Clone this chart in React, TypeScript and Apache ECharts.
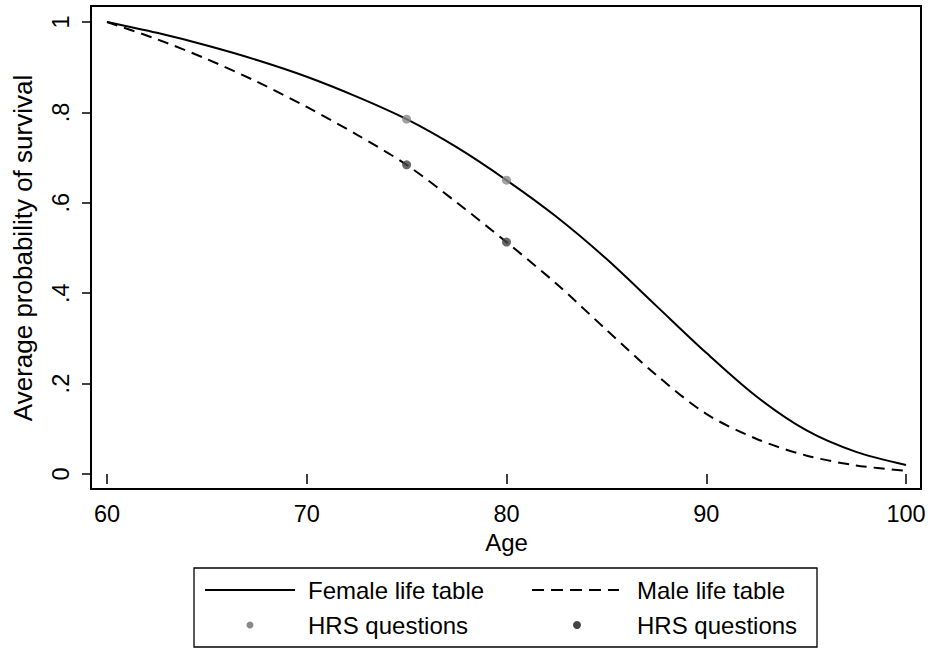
import React, { useEffect, useRef } from "react";
import * as echarts from "echarts";

const ages = [60, 62.5, 65, 67.5, 70, 72.5, 75, 77.5, 80, 82.5, 85, 87.5, 90, 92.5, 95, 97.5, 100];
const femaleSurvival = [1.0, 0.976, 0.948, 0.916, 0.879, 0.835, 0.785, 0.723, 0.65, 0.569, 0.476, 0.372, 0.268, 0.172, 0.097, 0.049, 0.02];
const maleSurvival = [1.0, 0.962, 0.918, 0.868, 0.812, 0.751, 0.684, 0.601, 0.513, 0.421, 0.319, 0.219, 0.133, 0.078, 0.041, 0.019, 0.007];
const hrsAges = [75, 80];
const femaleHRS = [0.785, 0.65];
const maleHRS = [0.684, 0.513];
const legendLabels = ["Female life table", "Male life table", "HRS questions", "HRS questions"];
const xTitle = "Age";
const yTitle = "Average probability of survival";

const FONT = "'Liberation Sans', Arial, Helvetica, sans-serif";
const FEMALE_DOT = "#8a8a8a";
const MALE_DOT = "#444444";

export default function App() {
  const ref = useRef<HTMLDivElement>(null);
  useEffect(() => {
    if (!ref.current) return;
    const chart = echarts.init(ref.current, null, { renderer: "svg" });
    const pair = (xs: number[], ys: number[]) => xs.map((x, i) => [x, ys[i]]);
    chart.setOption({
      animation: false,
      backgroundColor: "#ffffff",
      textStyle: { fontFamily: FONT },
      grid: { left: 107, right: 24, top: 22, bottom: 176, outerBoundsMode: "none" },
      xAxis: {
        type: "value",
        min: 60,
        max: 100,
        interval: 10,
        offset: 15,
        name: xTitle,
        nameLocation: "middle",
        nameGap: 40,
        nameTextStyle: { fontSize: 24, color: "#000", fontFamily: FONT },
        axisLine: { show: false },
        axisTick: { show: true, length: 10, lineStyle: { color: "#000", width: 1.5 } },
        axisLabel: { fontSize: 23.5, color: "#000", margin: 13, fontFamily: FONT },
        splitLine: { show: false },
      },
      yAxis: {
        type: "value",
        min: 0,
        max: 1,
        interval: 0.2,
        offset: 16,
        name: yTitle,
        nameLocation: "middle",
        nameGap: 55,
        nameTextStyle: { fontSize: 26, color: "#000", fontFamily: FONT },
        axisLine: { show: false },
        axisTick: { show: true, length: 9, lineStyle: { color: "#000", width: 1.5 } },
        axisLabel: {
          fontSize: 23.5,
          color: "#000",
          rotate: 90,
          margin: 18,
          fontFamily: FONT,
          formatter: (v: number) => (v === 0 ? "0" : v === 1 ? "1" : "." + Math.round(v * 10)),
        },
        splitLine: { show: false },
      },
      series: [
        {
          name: legendLabels[0],
          type: "line",
          data: pair(ages, femaleSurvival),
          smooth: 0.3,
          showSymbol: false,
          lineStyle: { color: "#000", width: 2 },
          z: 2,
        },
        {
          name: legendLabels[1],
          type: "line",
          data: pair(ages, maleSurvival),
          smooth: 0.3,
          showSymbol: false,
          lineStyle: { color: "#000", width: 2, type: [11, 7] },
          z: 2,
        },
        {
          name: legendLabels[2],
          type: "scatter",
          data: pair(hrsAges, femaleHRS),
          symbolSize: 9,
          itemStyle: { color: FEMALE_DOT },
          z: 3,
        },
        {
          name: legendLabels[3],
          type: "scatter",
          data: pair(hrsAges, maleHRS),
          symbolSize: 9,
          itemStyle: { color: MALE_DOT },
          z: 3,
        },
      ],
      graphic: [
        {
          type: "rect",
          shape: { x: 91, y: 6, width: 830, height: 483 },
          style: { fill: "none", stroke: "#000", lineWidth: 2 },
          silent: true,
        },
        {
          type: "rect",
          shape: { x: 194, y: 568, width: 623, height: 79 },
          style: { fill: "#fff", stroke: "#000", lineWidth: 1.3 },
          silent: true,
        },
        {
          type: "line",
          shape: { x1: 205, y1: 590, x2: 295, y2: 590 },
          style: { stroke: "#000", lineWidth: 2 },
        },
        {
          type: "text",
          x: 308,
          y: 590,
          style: { text: legendLabels[0], font: `24px ${FONT}`, fill: "#000", verticalAlign: "middle" },
        },
        {
          type: "line",
          shape: { x1: 532, y1: 590, x2: 619, y2: 590 },
          style: { stroke: "#000", lineWidth: 2, lineDash: [12, 7] },
        },
        {
          type: "text",
          x: 637,
          y: 590,
          style: { text: legendLabels[1], font: `24px ${FONT}`, fill: "#000", verticalAlign: "middle" },
        },
        {
          type: "circle",
          shape: { cx: 250, cy: 625, r: 3.5 },
          style: { fill: FEMALE_DOT },
        },
        {
          type: "text",
          x: 308,
          y: 625,
          style: { text: legendLabels[2], font: `24px ${FONT}`, fill: "#000", verticalAlign: "middle" },
        },
        {
          type: "circle",
          shape: { cx: 577, cy: 625, r: 4 },
          style: { fill: MALE_DOT },
        },
        {
          type: "text",
          x: 637,
          y: 625,
          style: { text: legendLabels[3], font: `24px ${FONT}`, fill: "#000", verticalAlign: "middle" },
        },
      ],
    });
    return () => chart.dispose();
  }, []);
  return (
    <div
      ref={ref}
      style={{ position: "fixed", left: 0, top: 0, width: 930, height: 650, background: "#fff" }}
    />
  );
}
